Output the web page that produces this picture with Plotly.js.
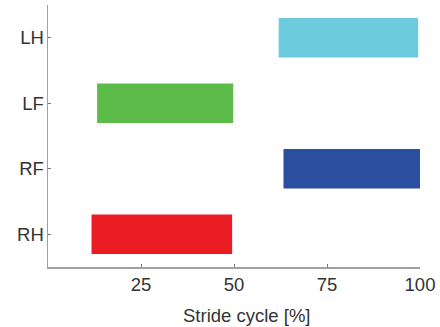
<!DOCTYPE html>
<html>
<head>
<meta charset="utf-8">
<script src="https://cdn.plot.ly/plotly-3.0.1.min.js"></script>
<style>
  html, body { margin: 0; padding: 0; background: #fff; }
  #chart { width: 440px; height: 327px; }
</style>
</head>
<body>
<div id="chart"></div>
<script>
// Stance phase of each leg over one stride (percent of the cycle)
const legs = ['RH', 'RF', 'LF', 'LH'];
const stanceStart = [11.7, 63.3, 13.2, 62.0];
const stanceEnd = [49.5, 100.0, 49.8, 99.5];
const legColors = ['#ec1c24', '#2a4f9e', '#5dbb4a', '#6ccbdc'];
const xTicks = [25, 50, 75, 100];

const durations = stanceStart.map((s, i) => stanceEnd[i] - s);

const trace = {
  type: 'bar',
  orientation: 'h',
  y: legs,
  x: durations,
  base: stanceStart,
  width: 0.6,
  marker: {
    color: legColors,
    line: { width: 0 }
  },
  hoverinfo: 'skip'
};

const axisFont = { family: 'Liberation Sans, Arial, sans-serif', size: 18.5, color: '#333' };

const layout = {
  width: 440,
  height: 327,
  margin: { l: 48, r: 20, t: 5, b: 60 },
  paper_bgcolor: '#fff',
  plot_bgcolor: '#fff',
  showlegend: false,
  font: axisFont,
  xaxis: {
    range: [0, 100],
    tickvals: xTicks,
    ticktext: xTicks.map(String),
    ticks: 'inside',
    ticklen: 3,
    tickwidth: 1,
    tickcolor: '#777',
    showline: true,
    linecolor: '#a0a0a0',
    linewidth: 1.5,
    showgrid: false,
    zeroline: false,
    tickfont: axisFont,
    ticklabelstandoff: 0
  },
  yaxis: {
    type: 'category',
    categoryorder: 'array',
    categoryarray: legs,
    range: [-0.5, 3.5],
    ticks: 'inside',
    ticklen: 3,
    tickwidth: 1,
    tickcolor: '#777',
    showline: true,
    linecolor: '#a0a0a0',
    linewidth: 1.5,
    showgrid: false,
    zeroline: false,
    tickfont: axisFont,
    ticklabelstandoff: -1
  },
  // x-axis caption, sitting slightly right of the plot centre
  annotations: [{
    text: 'Stride cycle [%]',
    xref: 'paper', yref: 'paper',
    x: 0.534, y: -0.185,
    xanchor: 'center', yanchor: 'middle',
    showarrow: false,
    font: axisFont
  }]
};

Plotly.newPlot('chart', [trace], layout, { staticPlot: true, displayModeBar: false });
</script>
</body>
</html>
